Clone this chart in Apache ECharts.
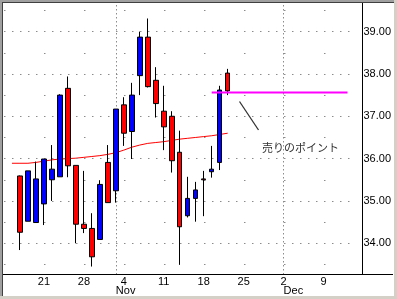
<!DOCTYPE html>
<html>
<head>
<meta charset="utf-8">
<script src="https://cdn.jsdelivr.net/npm/echarts@6/dist/echarts.min.js"></script>
<style>
html,body{margin:0;padding:0;background:#fff;}
#chart{width:397px;height:299px;}
</style>
</head>
<body>
<div id="chart"></div>
<script>
// Trading days (category axis)
var dates = ['10/14','10/15','10/16','10/17','10/18',
  '10/21','10/22','10/23','10/24','10/25',
  '10/28','10/29','10/30','10/31','11/1',
  '11/4','11/5','11/6','11/7','11/8',
  '11/11','11/12','11/13','11/14','11/15',
  '11/18','11/19','11/20','11/21','11/22',
  '11/25','11/26','11/27','11/28','11/29',
  '12/2','12/3','12/4','12/5','12/6',
  '12/9','12/10','12/11','12/12','12/13'];

// Week tick labels and month labels
var weekTicks = ['10/21','10/28','11/4','11/11','11/18','11/25','12/2','12/9'];
var monthTicks = ['11/1','12/2'];
var monthNames = ['Nov','Dec'];
var yTicks = [34, 35, 36, 37, 38, 39];
var yMinorTicks = [33.5, 34.5, 35.5, 36.5, 37.5, 38.5, 39.5];

// OHLC as [open, close, low, high]
var ohlc = ['-','-',
  [35.59, 34.26, 33.84, 35.60],
  [34.52, 35.71, 34.52, 35.71],
  [34.49, 35.52, 34.49, 35.93],
  [34.93, 35.99, 34.43, 35.99],
  [35.50, 35.75, 35.00, 36.32],
  [35.57, 37.50, 35.57, 37.52],
  [37.66, 35.83, 35.56, 37.94],
  [35.84, 34.45, 34.00, 35.84],
  [34.45, 34.35, 34.24, 35.71],
  [34.35, 33.68, 33.45, 34.71],
  [34.09, 35.39, 34.09, 35.49],
  [35.91, 34.96, 34.96, 36.32],
  [35.24, 37.17, 34.96, 37.17],
  [37.27, 36.60, 36.30, 37.45],
  [36.64, 37.50, 35.99, 37.79],
  [37.96, 38.87, 37.50, 39.00],
  [38.87, 37.70, 37.68, 39.31],
  [37.85, 37.30, 36.97, 38.16],
  [37.12, 36.75, 36.20, 37.72],
  [37.00, 35.95, 35.67, 37.12],
  [36.15, 34.39, 33.49, 36.66],
  [34.65, 35.06, 34.61, 35.57],
  [35.06, 35.26, 34.51, 35.45],
  [35.52, 35.50, 34.64, 35.71],
  [35.69, 35.75, 35.55, 36.30],
  [35.91, 37.62, 35.73, 37.72],
  [38.02, 37.60, 37.50, 38.12],
  '-','-','-','-','-','-','-','-','-','-','-','-','-','-','-','-'];

// Moving average
var ma = ['-', 35.89, 35.89, 35.89, 35.91, 35.94, 35.97, 35.99, 36.00, 36.01,
  36.03, 36.05, 36.07, 36.10, 36.14, 36.20, 36.27, 36.32, 36.36, 36.38,
  36.40, 36.43, 36.46, 36.48, 36.50, 36.52, 36.54, 36.57, 36.60];

// Sell point level
var sellLevel = 37.56;
var sellFrom = '11/19', sellTo = '12/12';
var annotation = '売りのポイント';

var sellData = dates.map(function (d, i) {
  return (i >= dates.indexOf(sellFrom) && i <= dates.indexOf(sellTo)) ? sellLevel : '-';
});

function hLine(v, dash, off) {
  return [{xAxis: dates[0], yAxis: v}, {xAxis: dates[dates.length - 1], yAxis: v,
    lineStyle: {color: '#8c8c8c', width: 1, type: dash, dashOffset: off}}];
}
var gridMarks = []
  .concat(yTicks.map(function (v) { return hLine(v, [1.5, 6.5], 0); }))
  .concat(yMinorTicks.map(function (v) { return hLine(v, [1.5, 38.5], 0); }));
var monthMarks = monthTicks.map(function (m) {
  return {xAxis: m, lineStyle: {color: '#8c8c8c', width: 1, type: [1.5, 2.5]}};
});

var chart = echarts.init(document.getElementById('chart'), null, {renderer: 'canvas'});
var labelFont = {fontFamily: 'Arial, "Liberation Sans", sans-serif', fontSize: 11, color: '#000'};

chart.setOption({
  animation: false,
  backgroundColor: '#fff',
  grid: {left: -0.5, right: 37.5, top: 3, bottom: 24.5, containLabel: false},
  xAxis: [{
    type: 'category', data: dates, boundaryGap: true,
    axisLine: {show: false}, axisTick: {show: false}, splitLine: {show: false},
    axisLabel: Object.assign({
      margin: 2,
      interval: function (i, v) { return weekTicks.indexOf(v) >= 0; },
      formatter: function (v) { return v.split('/')[1]; }
    }, labelFont)
  }, {
    type: 'category', data: dates, boundaryGap: true, position: 'bottom', offset: 9,
    axisLine: {show: false}, axisTick: {show: false}, splitLine: {show: false},
    axisLabel: Object.assign({
      margin: 2, align: 'left',
      interval: function (i, v) { return monthTicks.indexOf(v) >= 0; },
      formatter: function (v) { return monthNames[monthTicks.indexOf(v)]; }
    }, labelFont)
  }],
  yAxis: [{
    type: 'value', position: 'right', offset: 3,
    min: 33.262, max: 39.676,
    axisLine: {show: true, lineStyle: {color: '#000', width: 1}},
    axisTick: {show: false, customValues: yTicks},
    axisLabel: Object.assign({
      margin: 1, customValues: yTicks,
      formatter: function (v) { return v.toFixed(2); }
    }, labelFont),
    splitLine: {show: false}
  }],
  series: [{
    type: 'line', data: ma, z: 2, symbol: 'none', showSymbol: false,
    lineStyle: {color: '#ff0000', width: 1},
    markLine: {
      silent: true, symbol: ['none', 'none'], label: {show: false},
      data: gridMarks.concat(monthMarks)
    }
  }, {
    type: 'candlestick', data: ohlc, z: 6, barWidth: 5,
    itemStyle: {color: '#0000ff', color0: '#ff0000', borderColor: '#000', borderColor0: '#000', borderWidth: 1}
  }, {
    type: 'line', data: sellData, z: 7, symbol: 'none', showSymbol: false,
    lineStyle: {color: '#ff00ff', width: 2}
  }],
  graphic: [
    {type: 'line', shape: {x1: 3, y1: 274.5, x2: 393, y2: 274.5}, style: {stroke: '#000', lineWidth: 1}, z: 10},
    {type: 'line', shape: {x1: 239.5, y1: 101.5, x2: 258.5, y2: 130}, style: {stroke: '#333', lineWidth: 1.3}, z: 10},
    {type: 'text', style: {x: 262, y: 147.5, text: annotation, font: '11px "Noto Sans CJK JP"', fill: '#333', align: 'left', verticalAlign: 'middle'}, z: 10},
    {type: 'rect', shape: {x: 0, y: 0, width: 2, height: 299}, style: {fill: '#a0a0a0'}, z: 20},
    {type: 'rect', shape: {x: 0, y: 0, width: 397, height: 2}, style: {fill: '#a0a0a0'}, z: 20},
    {type: 'rect', shape: {x: 2, y: 2, width: 1, height: 295}, style: {fill: '#404040'}, z: 20},
    {type: 'rect', shape: {x: 2, y: 2, width: 393, height: 1}, style: {fill: '#404040'}, z: 20},
    {type: 'rect', shape: {x: 394, y: 0, width: 3, height: 299}, style: {fill: '#d4d0c8'}, z: 20},
    {type: 'rect', shape: {x: 0, y: 296, width: 397, height: 3}, style: {fill: '#d4d0c8'}, z: 20}
  ]
});
</script>
</body>
</html>
